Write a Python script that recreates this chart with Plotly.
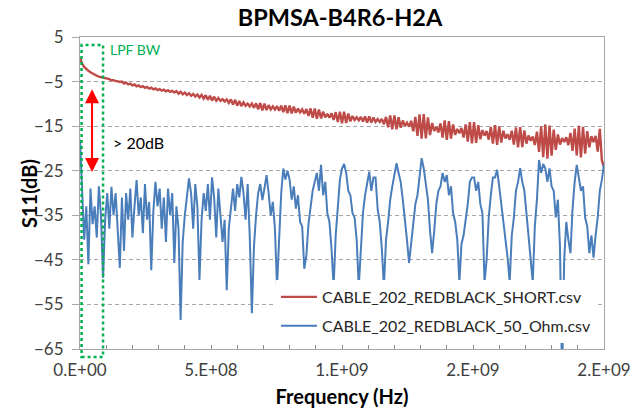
import plotly.graph_objects as go

# ---------------- data ----------------
title_text = "BPMSA-B4R6-H2A"
series_names = ["CABLE_202_REDBLACK_SHORT.csv", "CABLE_202_REDBLACK_50_Ohm.csv"]
freq_step_hz = 8e6  # sweep step of the plotted samples

short_db = [
    0.3, -1.0, -1.7, -2.2, -2.6, -2.9, -3.2, -3.5, -3.7, -3.9,
    -4.0, -4.25, -4.25, -4.45, -4.45, -4.7, -4.7, -4.9, -4.9, -5.1,
    -5.0, -5.45, -5.25, -5.65, -5.45, -5.85, -5.65, -6.05, -5.85, -6.25,
    -6.05, -6.43, -6.21, -6.58, -6.35, -6.75, -6.52, -6.9, -6.68, -7.05,
    -6.82, -7.18, -6.95, -7.32, -7.08, -7.45, -7.13, -7.71, -7.29, -7.87,
    -7.45, -8.03, -7.61, -8.19, -7.77, -8.35, -7.93, -8.57, -8.0, -8.83,
    -8.07, -9.1, -8.18, -9.26, -8.39, -9.32, -8.7, -9.33, -8.96, -9.49,
    -9.02, -9.8, -9.0, -10.15, -9.1, -10.4, -9.35, -10.5, -9.67, -10.43,
    -9.95, -10.57, -9.93, -10.9, -9.87, -11.23, -9.8, -11.45, -9.94, -11.39,
    -10.29, -11.24, -10.58, -11.28, -10.53, -11.57, -10.42, -11.87, -10.31, -12.11,
    -10.36, -12.15, -10.6, -12.0, -11.03, -11.91, -11.25, -12.23, -11.16, -12.69,
    -11.02, -13.1, -11.04, -13.32, -11.25, -13.27, -11.74, -13.01, -12.23, -13.1,
    -12.12, -13.59, -11.86, -14.08, -11.75, -14.34, -11.78, -14.31, -12.15, -13.94,
    -12.73, -13.61, -13.0, -13.69, -12.93, -13.96, -12.8, -14.19, -12.83, -14.21,
    -13.05, -14.06, -13.41, -14.07, -13.37, -14.58, -12.93, -15.24, -12.59, -15.7,
    -12.57, -15.73, -13.0, -15.37, -13.73, -14.95, -14.22, -15.13, -13.8, -16.17,
    -12.93, -17.2, -12.37, -17.83, -12.3, -17.77, -13.05, -17.02, -14.29, -16.06,
    -15.14, -16.41, -14.38, -17.55, -13.73, -18.1, -13.85, -17.79, -14.64, -16.98,
    -15.63, -16.58, -15.42, -17.57, -14.62, -18.46, -14.11, -18.85, -14.1, -18.75,
    -14.79, -17.94, -15.88, -17.13, -16.07, -18.02, -15.16, -18.91, -14.75, -19.2,
    -15.05, -18.69, -16.04, -17.78, -16.83, -18.07, -16.02, -19.16, -15.31, -19.75,
    -15.2, -19.68, -15.95, -18.93, -17.11, -18.28, -17.36, -19.24, -16.22, -20.79,
    -15.07, -21.95, -14.62, -22.3, -14.86, -21.61, -15.77, -20.32, -16.88, -19.13,
    -17.69, -18.54, -17.5, -19.26, -16.51, -20.57, -15.53, -21.59, -14.94, -22.0,
    -15.13, -21.17, -16.1, -19.73, -17.27, -18.6, -17.2, -20.7, -15.6, -22.7,
    -24.2,
]

ohm50_db = [
    -18.0, -31.0, -40.5, -33.0, -46.0, -29.0, -37.0, -33.0, -40.0, -28.5,
    -35.0, -49.0, -36.0, -30.0, -38.0, -28.6, -35.0, -30.0, -39.0, -46.8,
    -31.0, -43.0, -30.0, -36.0, -29.0, -40.0, -33.0, -27.1, -35.0, -31.0,
    -39.0, -28.0, -36.0, -32.0, -47.3, -34.0, -27.5, -33.0, -29.0, -38.0,
    -31.0, -41.0, -29.0, -35.0, -30.0, -45.7, -33.0, -38.0, -58.5, -41.0,
    -35.0, -30.0, -26.7, -30.0, -38.0, -28.0, -33.0, -49.5, -36.0, -30.0,
    -34.0, -28.0, -36.0, -26.5, -31.0, -40.0, -29.0, -35.0, -41.0, -36.0,
    -51.8, -38.0, -33.0, -29.0, -34.0, -28.0, -31.0, -26.4, -30.0, -36.0,
    -28.0, -40.0, -57.0, -42.0, -35.0, -30.0, -28.0, -31.6, -29.0, -26.0,
    -30.0, -35.0, -32.0, -38.0, -51.0, -40.0, -30.0, -24.5, -27.0, -25.0,
    -27.0, -31.5, -28.5, -33.5, -30.5, -36.5, -37.5, -47.0, -44.0, -37.0,
    -33.0, -29.5, -27.5, -25.5, -29.5, -23.7, -30.5, -27.5, -34.5, -36.5,
    -42.5, -51.0, -39.5, -32.5, -27.0, -24.5, -23.5, -25.5, -29.5, -30.5,
    -34.5, -35.5, -40.5, -51.0, -42.0, -34.5, -30.5, -27.5, -25.2, -29.5,
    -26.5, -26.5, -33.5, -36.5, -42.5, -51.0, -40.5, -36.5, -31.5, -28.5,
    -25.5, -23.3, -25.5, -27.5, -31.5, -35.5, -40.5, -45.7, -41.5, -37.5,
    -32.5, -30.5, -25.5, -22.2, -24.5, -28.5, -31.5, -38.5, -43.5, -38.5,
    -32.5, -29.5, -28.5, -25.5, -27.5, -26.0, -30.5, -28.5, -34.5, -36.5,
    -40.5, -50.0, -41.5, -39.5, -36.5, -32.5, -27.5, -26.5, -26.5, -29.5,
    -27.5, -32.5, -34.5, -50.0, -45.0, -35.5, -30.5, -26.5, -26.5, -24.8,
    -28.5, -32.5, -37.5, -40.5, -44.5, -50.0, -39.5, -35.5, -29.5, -27.5,
    -24.4, -27.5, -29.5, -34.5, -39.5, -44.5, -50.0, -37.5, -31.5, -22.6,
    -25.5, -23.5, -24.5, -27.5, -24.5, -28.5, -29.5, -35.5, -31.5, -42.0,
    -72.0, -45.0, -36.5, -40.5, -43.5, -33.5, -27.5, -23.7, -26.5, -29.5,
    -28.5, -35.5, -37.5, -43.5, -39.5, -44.5, -39.5, -35.5, -29.5, -27.0,
    -23.5,
]

freq_hz = [i * freq_step_hz for i in range(len(short_db))]

x_major_ticks = [0, 5e8, 1e9, 1.5e9, 2e9]
x_tick_labels = ["0.E+00", "5.E+08", "1.E+09", "2.E+09", "2.E+09"]
y_ticks = [5, -5, -15, -25, -35, -45, -55, -65]
x_range = [0, 2e9]
y_range = [-65, 5]

# annotation positions (data units)
lpf_bw_hz = [0.006e9, 0.088e9]
arrow_x_hz = 0.046e9
arrow_db = [-6.4, -25.3]

# ---------------- figure ----------------
FONT = "Lato"
RED = "#BE4B48"
BLUE = "#4A7EBB"

fig = go.Figure()
fig.add_trace(go.Scatter(x=freq_hz, y=short_db, mode="lines", name=series_names[0],
                         legendgroup="a", line=dict(color=RED, width=2.4)))
fig.add_trace(go.Scatter(x=freq_hz, y=ohm50_db, mode="lines", name=series_names[1],
                         legendgroup="b", line=dict(color=BLUE, width=2)))

L, R, T, B = 80, 37, 37, 62
W, H = 641, 411
pw, ph = W - L - R, H - T - B


def px_to_paper_y(py):
    return (H - B - py) / ph


def px_to_paper_x(px):
    return (px - L) / pw


def hz_to_paper_x(v):
    return (v - x_range[0]) / (x_range[1] - x_range[0])


# green dotted LPF box (extends slightly outside the plot area)
fig.add_shape(type="rect", xref="paper", yref="paper",
              x0=hz_to_paper_x(lpf_bw_hz[0]), x1=hz_to_paper_x(lpf_bw_hz[1]),
              y0=px_to_paper_y(357), y1=px_to_paper_y(45),
              line=dict(color="#00B050", width=2.5, dash="dot"), layer="above")

fig.add_annotation(xref="paper", yref="paper", x=px_to_paper_x(108), y=px_to_paper_y(50),
                   text="LPF BW", showarrow=False, xanchor="left", yanchor="middle",
                   font=dict(family=FONT, size=14, color="#00B050"))

fig.add_annotation(x=arrow_x_hz, y=arrow_db[1], ax=arrow_x_hz, ay=arrow_db[0],
                   xref="x", yref="y", axref="x", ayref="y", text="",
                   showarrow=True, arrowside="end+start", arrowhead=2, arrowsize=1.4,
                   arrowwidth=2, arrowcolor="#FF0000")

fig.add_annotation(xref="paper", yref="paper", x=px_to_paper_x(111), y=px_to_paper_y(142),
                   text="&gt; 20dB", showarrow=False, xanchor="left", yanchor="middle",
                   font=dict(family=FONT, size=16, color="#000000"))

# y-axis title placed as rotated annotation
fig.add_annotation(xref="paper", yref="paper", x=px_to_paper_x(29), y=px_to_paper_y(194),
                   text="<b>S11(dB)</b>", showarrow=False, textangle=-90,
                   xanchor="center", yanchor="middle",
                   font=dict(family=FONT, size=20, color="#000000"))

fig.update_layout(
    width=W, height=H,
    margin=dict(l=L, r=R, t=T, b=B, autoexpand=False),
    paper_bgcolor="white", plot_bgcolor="white",
    title=dict(text="<b>" + title_text + "</b>", x=(L + pw / 2 - 2) / W, xanchor="center",
               y=1 - 18 / H, yanchor="middle", automargin=False,
               font=dict(family=FONT, size=23.5, color="#000000")),
    showlegend=True,
    legend=dict(x=px_to_paper_x(276), y=px_to_paper_y(280), xanchor="left", yanchor="top",
                bgcolor="white", borderwidth=0,
                font=dict(family=FONT, size=16, color="#262626"),
                itemwidth=36, tracegroupgap=5, traceorder="grouped"),
    hovermode=False,
    font=dict(family=FONT),
)

fig.update_xaxes(
    range=x_range, tickvals=x_major_ticks, ticktext=x_tick_labels, automargin=False,
    ticks="inside", ticklen=4, tickcolor="#8c8c8c",
    minor=dict(dtick=1e8, tick0=0, ticks="inside", ticklen=4, tickcolor="#8c8c8c", showgrid=False),
    showgrid=False, zeroline=False,
    showline=True, linecolor="#a6a6a6", linewidth=1, mirror=True,
    tickfont=dict(family=FONT, size=17, color="#404040"),
    ticklabelstandoff=6,
    title=dict(text="<b>Frequency (Hz)</b>", font=dict(family=FONT, size=20, color="#000000"), standoff=10),
)

fig.update_yaxes(
    range=y_range, tickvals=y_ticks, ticks="outside", ticklen=7, tickcolor="#a6a6a6",
    showgrid=True, gridcolor="#a6a6a6", gridwidth=1, griddash="4px,3px",
    zeroline=False, automargin=False,
    showline=True, linecolor="#a6a6a6", linewidth=1, mirror=True,
    tickfont=dict(family=FONT, size=17, color="#404040"),
    ticklabelstandoff=5,
)

fig.write_html("out.html", config={"displayModeBar": False},
               post_script="document.body.style.margin='0px';")
